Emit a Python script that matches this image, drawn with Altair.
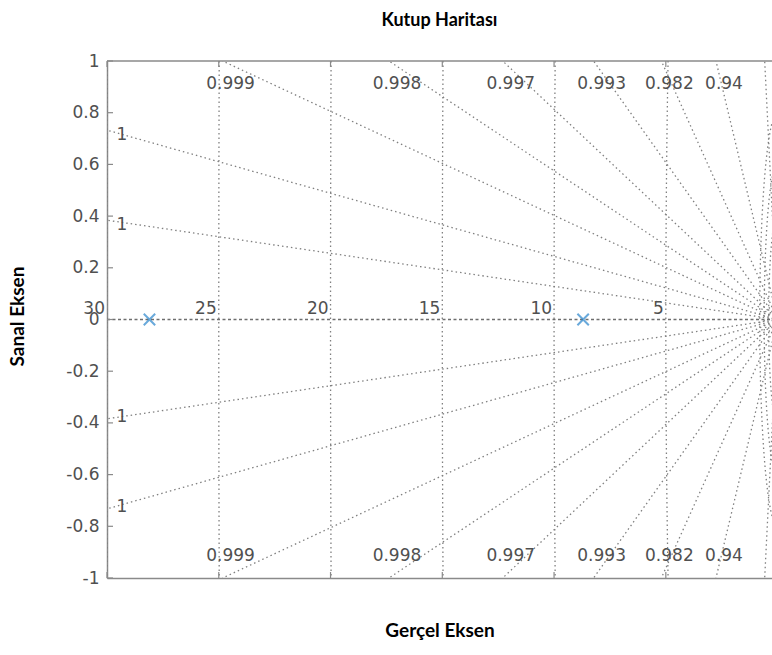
import altair as alt
import numpy as np
import pandas as pd

# Open-loop poles (real part, imaginary part)
pole_re = [-28.1, -8.7]
pole_im = [0.0, 0.0]

# Damping ratios of the constant-zeta grid rays and their printed labels
zeta_vals = [0.999918, 0.999702, 0.99919, 0.99835, 0.99671, 0.99270, 0.98200, 0.94000, 0.50, 0.17]
zeta_text = ["1", "1", "0.999", "0.998", "0.997", "0.993", "0.982", "0.94", "", ""]

# Natural-frequency circles and their labels
wn_vals = [5, 10, 15, 20, 25, 30]
wn_text = ["5", "10", "15", "20", "25", "30"]
wn_small = [0.4, 0.6, 0.8]

# Axis ticks
y_ticks = [-1, -0.8, -0.6, -0.4, -0.2, 0, 0.2, 0.4, 0.6, 0.8, 1]
x_ticks = [-30, -25, -20, -15, -10, -5]

X_MIN, X_MAX = -30, -0.25
Y_MIN, Y_MAX = -1, 1
W, H = 665, 517

GRID = "#808080"
AXIS = "#8a8a8a"
TXT = "#505050"
NUM_FONT = "DejaVu Sans"
NUM_SIZE = 17
TITLE_FONT = "Lato"
TITLE_SIZE = 19

# --- grid geometry -------------------------------------------------------
ray_rows, lab_rows = [], []
for k, (z, t) in enumerate(zip(zeta_vals, zeta_text)):
    s = np.sqrt(1 - z * z) / z
    for sgn in (1, -1):
        if s * abs(X_MIN) <= Y_MAX:
            ex, ey = X_MIN, sgn * s * abs(X_MIN)
            edge = "left_up" if sgn > 0 else "left_down"
        else:
            ex, ey = -Y_MAX / s, sgn * Y_MAX
            edge = "top" if sgn > 0 else "bottom"
        rid = f"z{k}{'u' if sgn > 0 else 'd'}"
        ray_rows.append({"id": rid, "o": 0, "x": 0.0, "y": 0.0})
        ray_rows.append({"id": rid, "o": 1, "x": ex, "y": ey})
        if t:
            lab_rows.append({"x": ex, "y": ey, "label": t, "edge": edge})
rays = pd.DataFrame(ray_rows)
zlabels = pd.DataFrame(lab_rows)

circ_rows = []
for r in wn_vals + wn_small:
    a = np.arcsin(min(1.0, Y_MAX / r))
    th = np.linspace(np.pi - a, np.pi + a, 80)
    for i, tt in enumerate(th):
        circ_rows.append({"id": f"w{r}", "o": i, "x": r * np.cos(tt), "y": r * np.sin(tt)})
circles = pd.DataFrame(circ_rows)

wlabels = pd.DataFrame({"x": [-v for v in wn_vals], "y": [0.0] * len(wn_vals), "label": wn_text})
poles = pd.DataFrame({"x": pole_re, "y": pole_im})
real_axis = pd.DataFrame({"id": ["re", "re"], "o": [0, 1], "x": [X_MIN, 0.0], "y": [0.0, 0.0]})

# --- shared encodings ----------------------------------------------------
xscale = alt.Scale(domain=[X_MIN, X_MAX], nice=False, zero=False)
yscale = alt.Scale(domain=[Y_MIN, Y_MAX], nice=False, zero=False)
xaxis = alt.Axis(
    title="Gerçel Eksen", labels=False, ticks=False, grid=False,
    domainColor=AXIS, domainWidth=1.5,
    titleFont=TITLE_FONT, titleFontSize=TITLE_SIZE, titleFontWeight="bold", titleColor="black",
    titleX=W / 2, titleY=52, titleBaseline="middle", titleAlign="center",
)
yaxis = alt.Axis(
    title="Sanal Eksen", values=y_ticks, labelExpr="'' + datum.value",
    ticks=False, grid=False, domainColor=AXIS, domainWidth=1.5,
    labelFont=NUM_FONT, labelFontSize=NUM_SIZE, labelColor=TXT, labelPadding=8,
    titleFont=TITLE_FONT, titleFontSize=TITLE_SIZE, titleFontWeight="bold", titleColor="black",
    titleX=-90, titleY=255, titleAngle=-90, titleBaseline="middle", titleAlign="center",
)
X = alt.X("x:Q", scale=xscale, axis=xaxis)
Y = alt.Y("y:Q", scale=yscale, axis=yaxis)

dotted = dict(color=GRID, strokeWidth=1.3, strokeDash=[1.5, 3], clip=True)

circle_layer = alt.Chart(circles).mark_line(**dotted).encode(
    x=X, y=Y, detail="id:N", order="o:Q")
ray_layer = alt.Chart(rays).mark_line(**dotted).encode(
    x=X, y=Y, detail="id:N", order="o:Q")
real_layer = alt.Chart(real_axis).mark_line(
    color="#6e6e6e", strokeWidth=1.6, strokeDash=[3, 2.5], clip=True).encode(
    x=X, y=Y, detail="id:N", order="o:Q")

num_text = dict(font=NUM_FONT, fontSize=NUM_SIZE, color=TXT)
wn_layer = alt.Chart(wlabels).mark_text(
    align="right", baseline="alphabetic", dx=-2, dy=-6, **num_text).encode(
    x=X, y=Y, text="label:N")

def zlab(edge, **kw):
    return alt.Chart(zlabels[zlabels.edge == edge]).mark_text(**num_text, **kw).encode(
        x=X, y=Y, text="label:N")

top_lab = zlab("top", align="center", baseline="middle", dx=8, dy=23)
bot_lab = zlab("bottom", align="center", baseline="middle", dx=8, dy=-22)
lu_lab = zlab("left_up", align="center", baseline="middle", dx=15, dy=5)
ld_lab = zlab("left_down", align="center", baseline="middle", dx=15, dy=-2)

pole_layer = alt.Chart(poles).mark_point(
    shape="M-1,-1L1,1M-1,1L1,-1", size=130, strokeWidth=2, color="#2a86cc", filled=False
).encode(x=X, y=Y)

# frame: top border and inward tick marks
top_border = alt.Chart(pd.DataFrame({"y": [Y_MAX]})).mark_rule(
    color=AXIS, strokeWidth=1.5).encode(y=Y)
yt = pd.DataFrame({"y": y_ticks})
xt = pd.DataFrame({"x": x_ticks})
ytick_layer = alt.Chart(yt).mark_rule(color=AXIS, strokeWidth=1.2).encode(
    y=Y, x=alt.value(0), x2=alt.value(6))
xtick_bot = alt.Chart(xt).mark_rule(color=AXIS, strokeWidth=1.2).encode(
    x=X, y=alt.value(H), y2=alt.value(H - 6))
xtick_top = alt.Chart(xt).mark_rule(color=AXIS, strokeWidth=1.2).encode(
    x=X, y=alt.value(0), y2=alt.value(6))

chart = alt.layer(
    circle_layer, ray_layer, real_layer, wn_layer,
    top_lab, bot_lab, lu_lab, ld_lab,
    top_border, ytick_layer, xtick_bot, xtick_top, pole_layer,
).properties(
    width=W, height=H,
    autosize=alt.AutoSizeParams(type="none"),
    padding={"left": 107, "top": 61, "right": 0, "bottom": 77},
    title=alt.Title("Kutup Haritası", font=TITLE_FONT, fontSize=18, fontWeight="bold",
                    color="black", anchor="middle", baseline="bottom", offset=4),
    background="white",
).configure_view(strokeWidth=0)

chart.save("out.html", embed_options={"renderer": "svg", "actions": False})
